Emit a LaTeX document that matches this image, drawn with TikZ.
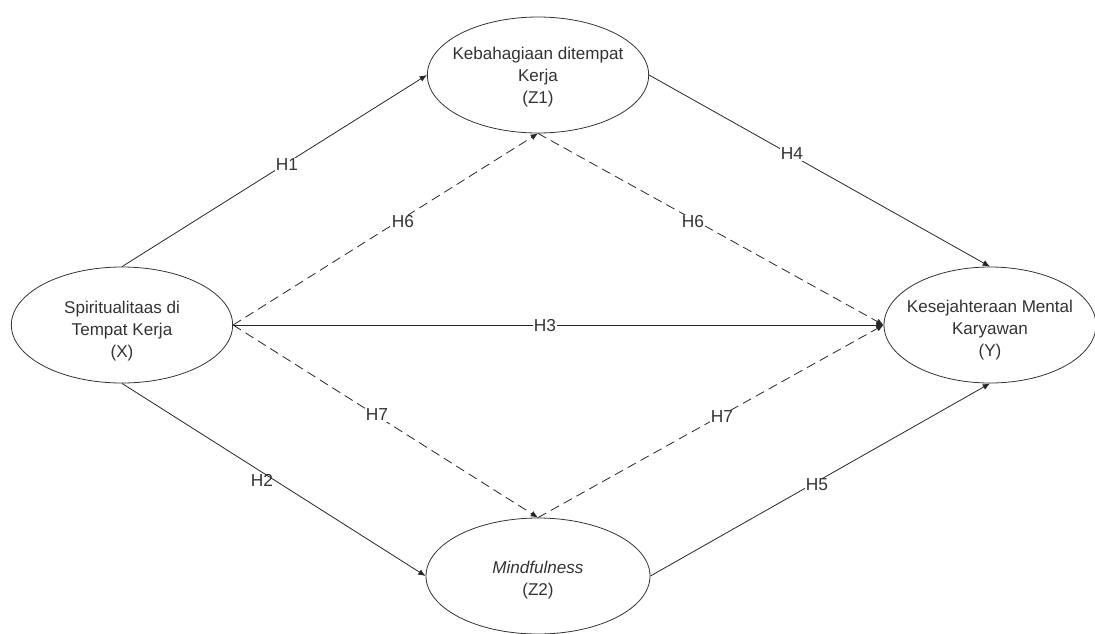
\documentclass[tikz,border=0pt]{standalone}
\usepackage{fontspec}
\setmainfont{Liberation Sans}
\usetikzlibrary{shapes.geometric,arrows.meta}

\tikzset{
  latent/.style={draw=black!80, line width=0.6pt, ellipse, inner sep=0pt, minimum width=166pt, minimum height=87pt},
  vartext/.style={align=center, text=black!80, inner sep=0.75pt, font=\fontsize{12.8}{16.5}\selectfont},
  hline/.style={draw=black!85, line width=0.6pt, -{Latex[length=5.5pt,width=4.5pt]}},
  hdash/.style={hline, dash pattern=on 7pt off 4pt},
  hlab/.style={fill=white, inner sep=1pt, text=black!80, font=\fontsize{13}{15}\selectfont},
}

\begin{document}
\begin{tikzpicture}[x=0.75pt,y=0.75pt,yscale=-1,xscale=1]
\useasboundingbox (0,0) rectangle (1095,633);

%Shape: Ellipse
\node[latent] (x) at (122,325) {};
%Shape: Ellipse
\node[latent] (z1) at (538,75) {};
%Shape: Ellipse
\node[latent, minimum width=159pt] (y) at (990,325) {};
%Shape: Ellipse
\node[latent, minimum width=168pt] (z2) at (538,576) {};

% Text Node
\node[vartext] (xtxt) at (122,331) {Spiritualitaas di\\Tempat Kerja\\(X)};
% Text Node
\node[vartext] (z1txt) at (538,77) {Kebahagiaan ditempat\\Kerja\\(Z1)};
% Text Node
\node[vartext] (ytxt) at (990,330) {Kesejahteraan Mental\\Karyawan\\(Y)};
% Text Node
\node[vartext] (z2txt) at (538,580) {\textit{Mindfulness}\\(Z2)};

%Straight Lines
\draw[hline] (x.north) -- (z1.west);
\draw[hline] (x.south) -- (z2.west);
\draw[hline] (z1.east) -- (y.north);
\draw[hline] (z2.east) -- (y.south);
\draw[hline] (x.east) -- (y.west);
%Dashed Lines
\draw[hdash] (x.east) -- (z1.south);
\draw[hdash] (z1.south) -- (y.west);
\draw[hdash] (x.east) -- (z2.north);
\draw[hdash] (z2.north) -- (y.west);

% Text Node
\node[hlab] (h1) at (287,165) {H1};
% Text Node
\node[hlab, fill=none] (h2) at (262,480) {H2};
% Text Node
\node[hlab] (h3) at (545,326) {H3};
% Text Node
\node[hlab] (h4) at (792,154) {H4};
% Text Node
\node[hlab] (h5) at (817,485) {H5};
% Text Node
\node[hlab] (h6a) at (403,222) {H6};
% Text Node
\node[hlab] (h6b) at (693,222) {H6};
% Text Node
\node[hlab] (h7a) at (377,415) {H7};
% Text Node
\node[hlab] (h7b) at (722,417) {H7};

\end{tikzpicture}
\end{document}
